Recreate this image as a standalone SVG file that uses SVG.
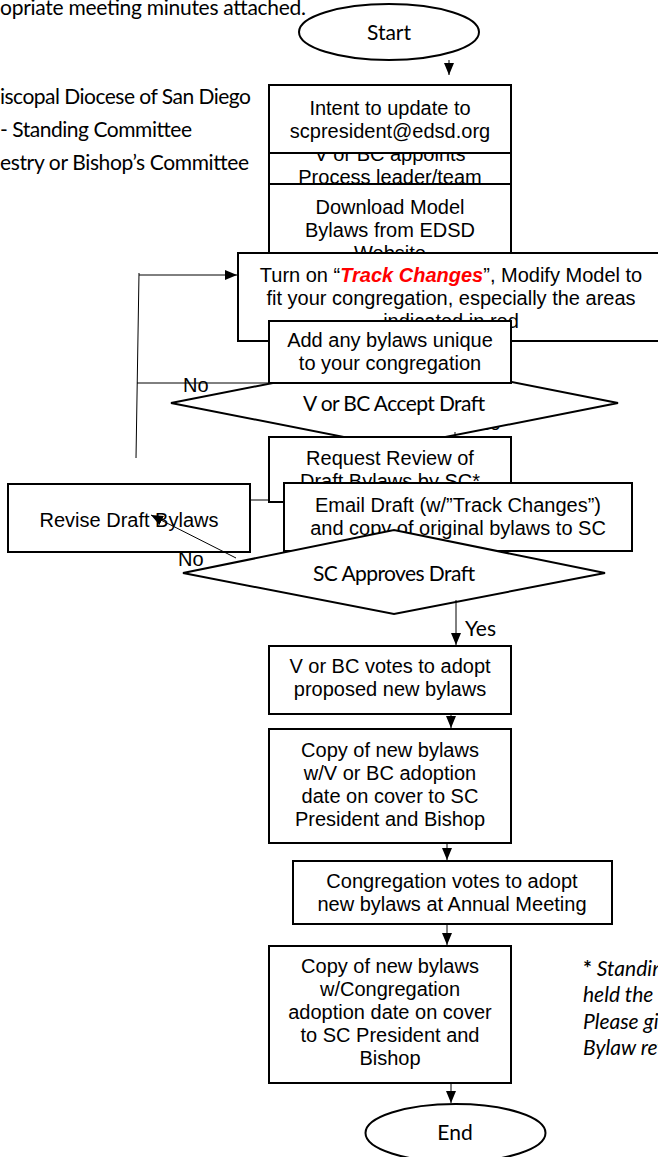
<svg xmlns="http://www.w3.org/2000/svg" width="658" height="1157" viewBox="0 0 658 1157">
<style>
.box{fill:#fff;stroke:#000;stroke-width:2}
.t{font-family:"Liberation Sans",Arial,sans-serif;font-size:20px;text-anchor:middle;fill:#000}
.c{font-family:Lato,"Open Sans",sans-serif;font-size:21px;fill:#000}
.ln{stroke:#000;stroke-width:1;fill:none}
.lb{font-family:"Liberation Sans",Arial,sans-serif;font-size:20px;fill:#000}
</style>
<defs>
<marker id="ah" viewBox="0 0 12 10" refX="12" refY="5" markerWidth="12" markerHeight="10" markerUnits="userSpaceOnUse" orient="auto">
<path d="M0,0 L12,5 L0,10 z" fill="#000"/>
</marker>
</defs>
<rect width="658" height="1157" fill="#fff"/>
<g id="legend">
<text class="c" x="306" y="15" text-anchor="end" textLength="306">opriate meeting minutes attached.</text>
<text class="c" x="251" y="104" text-anchor="end" textLength="251">iscopal Diocese of San Diego</text>
<text class="c" x="192" y="137" text-anchor="end" textLength="192">- Standing Committee</text>
<text class="c" x="249" y="170" text-anchor="end" textLength="249">estry or Bishop’s Committee</text>
</g>
<g id="start">
<ellipse cx="389" cy="32" rx="90" ry="28" class="box"/>
<text class="c" x="389" y="40" text-anchor="middle">Start</text>
</g>
<g id="appoint">
<rect class="box" x="269" y="153" width="242" height="31"/>
<text class="t" x="390" y="161">V or BC appoints</text>
<text class="t" x="390" y="184">Process leader/team</text>
</g>
<g id="intent">
<rect class="box" x="269" y="85" width="242" height="68"/>
<text class="t" x="390" y="115">Intent to update to</text>
<text class="t" x="390" y="138">scpresident@edsd.org</text>
</g>
<g id="download">
<rect class="box" x="269" y="184" width="242" height="86"/>
<text class="t" x="390" y="214">Download Model</text>
<text class="t" x="390" y="237">Bylaws from EDSD</text>
<text class="t" x="390" y="260">Website</text>
</g>
<g id="modify">
<rect class="box" x="238" y="253" width="440" height="88"/>
<text class="t" x="451" y="282">Turn on “<tspan font-weight="bold" font-style="italic" fill="#ff0000">Track Changes</tspan>”, Modify Model to</text>
<text class="t" x="451" y="305">fit your congregation, especially the areas</text>
<text class="t" x="451" y="328">indicated in red</text>
</g>
<g id="accept">
<text class="c" x="469" y="430">Yes</text>
<polygon class="box" points="171,403 394.5,359 618,403 394.5,447"/>
<text class="c" x="394" y="411" text-anchor="middle" textLength="182" font-size="22">V or BC Accept Draft</text>
</g>
<g id="unique">
<rect class="box" x="269" y="321" width="242" height="62"/>
<text class="t" x="390" y="347">Add any bylaws unique</text>
<text class="t" x="390" y="370">to your congregation</text>
</g>
<g id="request">
<rect class="box" x="269" y="437" width="242" height="65"/>
<text class="t" x="390" y="465">Request Review of</text>
<text class="t" x="390" y="488">Draft Bylaws by SC*</text>
</g>
<g id="email">
<rect class="box" x="284" y="483" width="348" height="68"/>
<text class="t" x="458" y="512">Email Draft (w/”Track Changes”)</text>
<text class="t" x="458" y="535">and copy of original bylaws to SC</text>
</g>
<g id="approve">
<polygon class="box" points="183,573 394,530 605,573 394,614"/>
<text class="c" x="394" y="581" text-anchor="middle" textLength="162" font-size="22">SC Approves Draft</text>
</g>
<g id="revise">
<rect class="box" x="8" y="484" width="242" height="68"/>
<text class="t" x="129" y="527">Revise Draft Bylaws</text>
</g>
<g id="vote">
<rect class="box" x="269" y="646" width="242" height="68"/>
<text class="t" x="390" y="673">V or BC votes to adopt</text>
<text class="t" x="390" y="696">proposed new bylaws</text>
</g>
<g id="copy1">
<rect class="box" x="269" y="729" width="242" height="114"/>
<text class="t" x="390" y="757">Copy of new bylaws</text>
<text class="t" x="390" y="780">w/V or BC adoption</text>
<text class="t" x="390" y="803">date on cover to SC</text>
<text class="t" x="390" y="826">President and Bishop</text>
</g>
<g id="congvote">
<rect class="box" x="293" y="861" width="319" height="63"/>
<text class="t" x="452" y="888">Congregation votes to adopt</text>
<text class="t" x="452" y="911">new bylaws at Annual Meeting</text>
</g>
<g id="copy2">
<rect class="box" x="269" y="946" width="242" height="137"/>
<text class="t" x="390" y="973">Copy of new bylaws</text>
<text class="t" x="390" y="996">w/Congregation</text>
<text class="t" x="390" y="1019">adoption date on cover</text>
<text class="t" x="390" y="1042">to SC President and</text>
<text class="t" x="390" y="1065">Bishop</text>
</g>
<g id="end">
<ellipse cx="455.5" cy="1133" rx="90" ry="29" class="box"/>
<text class="c" x="455" y="1140" text-anchor="middle">End</text>
</g>
<g id="footnote" class="c" font-style="italic" font-size="20">
<text x="583" y="976"><tspan font-weight="bold" font-style="normal">*</tspan> Standing</text>
<text x="583" y="1002">held the</text>
<text x="583" y="1029">Please give</text>
<text x="583" y="1055">Bylaw review</text>
</g>
<g id="connectors">
<line class="ln" x1="449" y1="60" x2="449" y2="75" marker-end="url(#ah)"/>
<line class="ln" x1="139" y1="273" x2="136" y2="458"/>
<line class="ln" x1="139" y1="275" x2="237" y2="275" marker-end="url(#ah)"/>
<line class="ln" x1="137" y1="383" x2="269" y2="383"/>
<line class="ln" x1="455" y1="432" x2="455" y2="437"/>
<line class="ln" x1="250" y1="500" x2="269" y2="500"/>
<line class="ln" x1="236" y1="558" x2="151" y2="515" marker-end="url(#ah)"/>
<line class="ln" x1="456" y1="600" x2="456" y2="645" marker-end="url(#ah)"/>
<line class="ln" x1="451" y1="714" x2="451" y2="728" marker-end="url(#ah)"/>
<line class="ln" x1="447" y1="843" x2="447" y2="860" marker-end="url(#ah)"/>
<line class="ln" x1="447" y1="924" x2="447" y2="945" marker-end="url(#ah)"/>
<line class="ln" x1="451" y1="1083" x2="451" y2="1103" marker-end="url(#ah)"/>
<text class="lb" x="183" y="392">No</text>
<text class="lb" x="178" y="566">No</text>
<text class="c" x="465" y="636">Yes</text>
</g>
</svg>
